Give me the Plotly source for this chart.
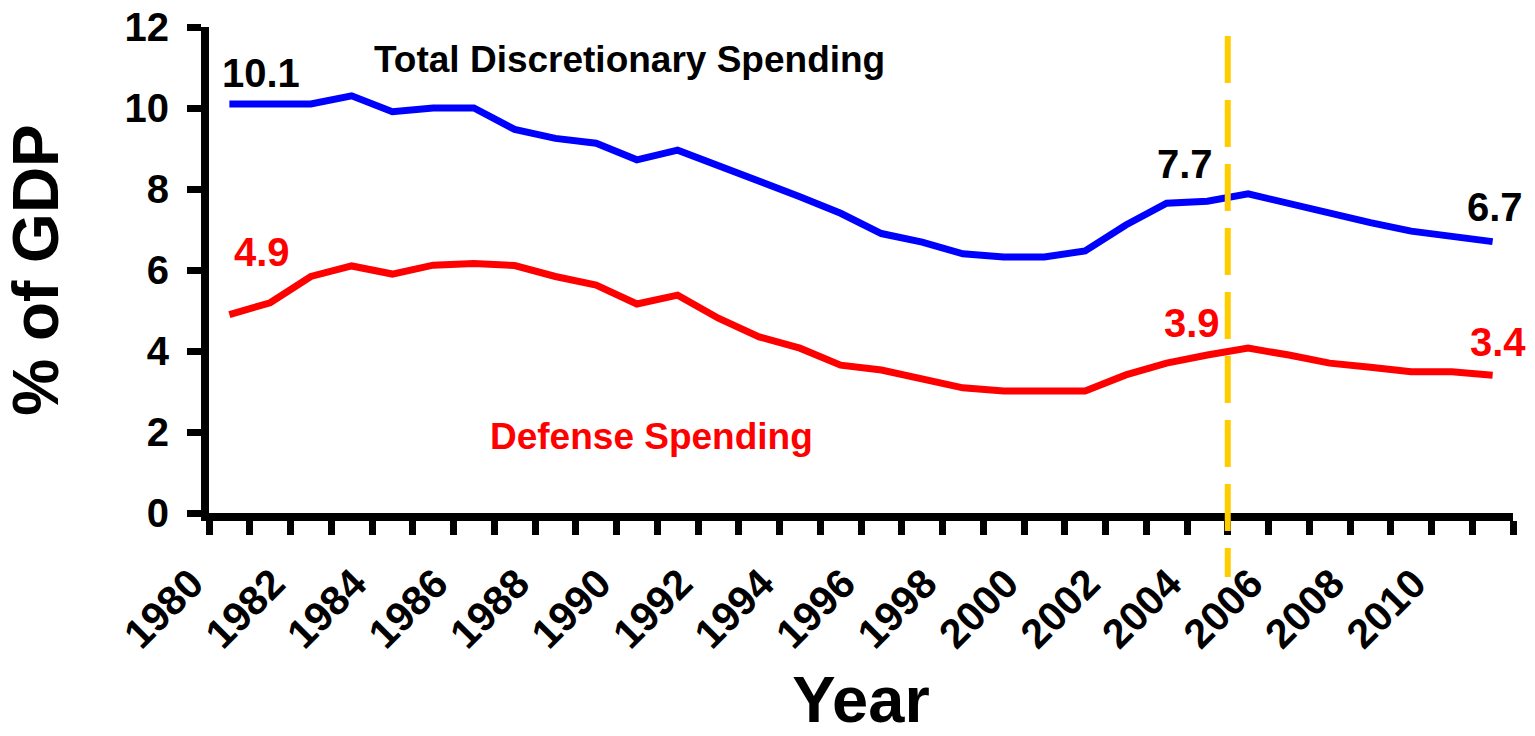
import plotly.graph_objects as go

# Spending as a share of GDP, 1980-2011
years = list(range(1980, 2012))
total_discretionary = [10.1, 10.1, 10.1, 10.3, 9.91, 10.0, 10.0, 9.47, 9.25, 9.13,
                       8.72, 8.96, 8.59, 8.18, 7.81, 7.40, 6.9, 6.69, 6.40, 6.32,
                       6.32, 6.47, 7.11, 7.65, 7.7, 7.88, 7.63, 7.38, 7.17, 6.96,
                       6.82, 6.7]
defense = [4.9, 5.19, 5.84, 6.10, 5.90, 6.12, 6.16, 6.11, 5.84, 5.63,
           5.16, 5.38, 4.81, 4.35, 4.07, 3.65, 3.53, 3.33, 3.09, 3.01,
           3.01, 3.01, 3.41, 3.7, 3.9, 4.07, 3.9, 3.70, 3.6, 3.49,
           3.49, 3.4]
label_years = list(range(1980, 2011, 2))
y_ticks = [0, 2, 4, 6, 8, 10, 12]

FONT = "Liberation Sans"
BLUE = "#0000FF"
RED = "#FF0000"
GOLD = "#FFCC00"

fig = go.Figure()
fig.add_trace(go.Scatter(x=years, y=total_discretionary, mode="lines",
                         line=dict(color=BLUE, width=7), name="Total Discretionary Spending"))
fig.add_trace(go.Scatter(x=years, y=defense, mode="lines",
                         line=dict(color=RED, width=7), name="Defense Spending"))

# value call-outs: (series, year, colour, xshift, yshift)
callouts = [
    (total_discretionary, 1980, "black", 32, 31),
    (defense, 1980, RED, 33, 63),
    (total_discretionary, 2004, "black", -22, 37),
    (defense, 2004, RED, -15, 32),
    (total_discretionary, 2011, "black", 2, 35),
    (defense, 2011, RED, 5, 33),
]
for series, yr, col, dx, dy in callouts:
    v = series[years.index(yr)]
    fig.add_annotation(x=yr, y=v, text=f"{v:.1f}", showarrow=False,
                       xshift=dx, yshift=dy, xanchor="center", yanchor="middle",
                       font=dict(family=FONT, size=40, color=col, weight="bold"))

# series names
fig.add_annotation(x=1989.83, y=11.19, text="Total Discretionary Spending", showarrow=False,
                   font=dict(family=FONT, size=37, color="black", weight="bold"))
fig.add_annotation(x=1990.37, y=1.90, text="Defense Spending", showarrow=False,
                   font=dict(family=FONT, size=37, color=RED, weight="bold"))

# dashed marker between 2004 and 2005, running below the axis
fig.add_shape(type="line", xref="x", yref="paper", x0=2004.5, x1=2004.5, y0=0.9815, y1=-0.1317,
              line=dict(color=GOLD, width=6, dash="47px,17px"), layer="above")

fig.update_xaxes(
    range=[1979.5, 2011.5], automargin=False,
    tickmode="array", tickvals=label_years, ticktext=[str(y) for y in label_years],
    tickangle=-45, ticks="",
    ticklabelshift=-38, ticklabelstandoff=22,
    tickfont=dict(family=FONT, size=41, color="black", weight="bold"),
    minor=dict(tickmode="array", tickvals=[y - 0.5 for y in years] + [years[-1] + 0.5],
               ticks="outside", ticklen=14, tickwidth=7, tickcolor="black"),
    showline=True, linecolor="black", linewidth=8,
    showgrid=False, zeroline=False,
    title=dict(text="Year", standoff=46,
               font=dict(family=FONT, size=65, color="black", weight="bold")),
)
fig.update_yaxes(
    range=[0, 12], automargin=False, tickmode="array", tickvals=y_ticks,
    ticks="outside", ticklen=14, tickwidth=7, tickcolor="black",
    tickfont=dict(family=FONT, size=40, color="black", weight="bold"),
    ticklabelstandoff=10,
    showline=True, linecolor="black", linewidth=8,
    showgrid=False, zeroline=False,
    title=dict(text="% of GDP", standoff=57,
               font=dict(family=FONT, size=64, color="black", weight="bold")),
)

fig.update_layout(
    width=1535, height=736,
    margin=dict(l=209, r=22, t=27, b=223),
    plot_bgcolor="white", paper_bgcolor="white",
    showlegend=False,
)

fig.write_html("out.html")
